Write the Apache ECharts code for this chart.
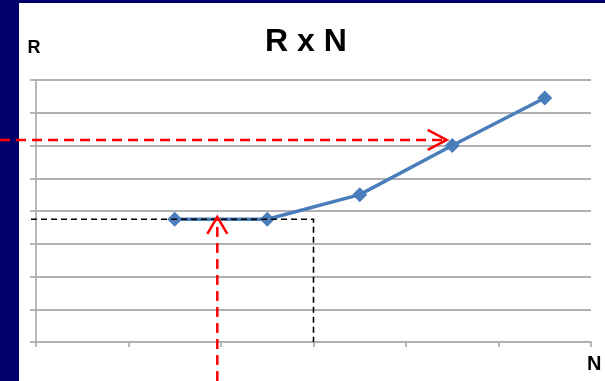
<!DOCTYPE html>
<html>
<head>
<meta charset="utf-8">
<script src="https://cdn.jsdelivr.net/npm/echarts@6/dist/echarts.min.js"></script>
<style>
  html, body { margin: 0; padding: 0; background: #00006b; }
  #wrap { position: relative; width: 605px; height: 381px; overflow: hidden; }
  #panel { position: absolute; left: 19px; top: 3px; right: 0; bottom: 0; background: #ffffff; }
  #chart { position: absolute; left: 0; top: 0; width: 605px; height: 381px; }
</style>
</head>
<body>
<div id="wrap">
  <div id="panel"></div>
  <div id="chart"></div>
</div>
<script>
// N categories (six slots, the first one has no reading)
const categories = ['0', '1', '2', '3', '4', '5'];
// R readings for each N
const rValues = [null, 3.75, 3.75, 4.5, 6, 7.45];
// R axis ticks
const rTicks = { min: 0, max: 8, step: 1 };

// Guide lines (data units: fractional category index, R value)
const guideLevel = 3.75;      // black dashed reading level
const guideCat = 2.5;         // black dashed drop position (between slots)
const arrowHLevel = 6.17;     // red horizontal arrow level
const arrowHTipCat = 3.94;    // where the horizontal arrow stops
const arrowVCat = 1.46;       // red vertical arrow position
const arrowVTipLevel = 3.82;  // where the vertical arrow stops

const chart = echarts.init(document.getElementById('chart'), null, { renderer: 'canvas' });
const FONT = '"Liberation Sans", Arial, sans-serif';
const GRID_COL = '#b0b0b0';

chart.setOption({
  backgroundColor: 'transparent',
  animation: false,
  grid: { left: 36, right: 14, top: 80, bottom: 39, containLabel: false },
  xAxis: {
    type: 'category',
    data: categories,
    boundaryGap: true,
    axisLine: { show: true, lineStyle: { color: GRID_COL, width: 1.8 } },
    axisTick: { show: true, length: 5, lineStyle: { color: GRID_COL, width: 1.8 } },
    axisLabel: { show: false },
    splitLine: { show: false }
  },
  yAxis: {
    type: 'value',
    min: rTicks.min, max: rTicks.max, interval: rTicks.step,
    axisLine: { show: true, lineStyle: { color: GRID_COL, width: 1.8 } },
    axisTick: { show: true, length: 6, lineStyle: { color: GRID_COL, width: 1.8 } },
    axisLabel: { show: false },
    splitLine: { show: true, lineStyle: { color: GRID_COL, width: 1.8 } }
  },
  series: [{
    type: 'line',
    data: rValues,
    connectNulls: false,
    symbol: 'diamond',
    symbolSize: 15,
    itemStyle: { color: '#4a7ebb' },
    lineStyle: { color: '#4a7ebb', width: 3.5 },
    z: 3
  }]
});

// pixel helpers based on the grid's own scales
function px(catIdx, val) {
  return chart.convertToPixel({ gridIndex: 0 }, [catIdx, val]);
}
const p0 = px(0, 0), p1 = px(1, 0);
const step = p1[0] - p0[0];
function catX(f) { return p0[0] + f * step; }
function valY(v) { return chart.convertToPixel({ yAxisIndex: 0 }, v); }

const W = chart.getWidth(), H = chart.getHeight();
const axisX = catX(-0.5);
const axisY = valY(0);

const red = { stroke: '#ff0000', lineWidth: 2.5, lineDash: [10, 6], fill: null };
const redSolid = { stroke: '#ff0000', lineWidth: 2.5, fill: null };
const black = { stroke: '#000000', lineWidth: 1.6, lineDash: [6, 4], fill: null };

const gy = valY(guideLevel), gx = catX(guideCat);
const hy = valY(arrowHLevel), hx = catX(arrowHTipCat);
const vx = catX(arrowVCat), vy = valY(arrowVTipLevel);

chart.setOption({
  graphic: [
    { type: 'text', x: 306, y: 26, z: 10,
      style: { text: 'R x N', font: 'bold 32px ' + FONT, fill: '#000000', textAlign: 'center' } },
    { type: 'text', x: 34, y: 39, z: 10,
      style: { text: 'R', font: 'bold 18px ' + FONT, fill: '#000000', textAlign: 'center' } },
    { type: 'text', x: 587, y: 354, z: 10,
      style: { text: 'N', font: 'bold 20px ' + FONT, fill: '#000000', textAlign: 'left' } },
    // black dashed reading lines
    { type: 'polyline', z: 20, shape: { points: [[axisX - 5, gy], [gx, gy], [gx, axisY]] }, style: black },
    // red horizontal arrow
    { type: 'line', z: 21, shape: { x1: 0, y1: hy, x2: hx, y2: hy }, style: red },
    { type: 'polyline', z: 21, shape: { points: [[hx - 19, hy - 10], [hx, hy], [hx - 19, hy + 10]] }, style: redSolid },
    // red vertical arrow
    { type: 'line', z: 21, shape: { x1: vx, y1: H, x2: vx, y2: vy }, style: red },
    { type: 'polyline', z: 21, shape: { points: [[vx - 10, vy + 17], [vx, vy], [vx + 10, vy + 17]] }, style: redSolid }
  ]
});
</script>
</body>
</html>
